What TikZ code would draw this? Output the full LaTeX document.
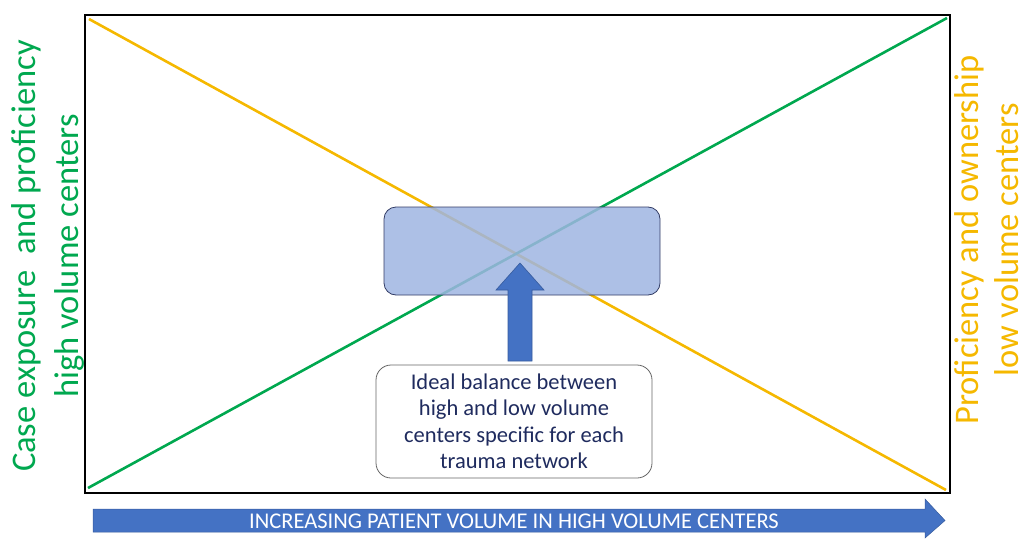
\documentclass[tikz,border=0pt]{standalone}
\usepackage{fontspec}
\setmainfont{Carlito}
\definecolor{gline}{HTML}{00A84F}
\definecolor{yline}{HTML}{F5B800}
\definecolor{boxblue}{HTML}{9FB5E2}
\definecolor{arrblue}{HTML}{4472C4}
\definecolor{navy}{HTML}{1F2B5E}
\tikzset{
  axislabel/.style={rotate=90, align=center, inner sep=0pt},
  curve/.style={line width=2.6pt},
  blockarrow/.style={fill=arrblue, draw=arrblue!80!black, line width=0.6pt, line join=miter},
}
\begin{document}
\begin{tikzpicture}[x=1pt,y=-1pt]
\useasboundingbox (0,0) rectangle (1027,538);
% frame corners
\coordinate (tl) at (85,15);
\coordinate (br) at (950,493);
\coordinate (g0) at (88,488);
\coordinate (g1) at (947,18);
\coordinate (y0) at (89,19);
\coordinate (y1) at (946,490);
% the two trade-off lines
\draw[curve, yline] (y0) -- (y1);
\draw[curve, gline] (g0) -- (g1);
% balance zone
\node[draw=navy!80!gray, line width=0.8pt, fill=boxblue, fill opacity=0.85,
  rounded corners=12pt, minimum width=276pt, minimum height=88pt] (zone) at (522,251) {};
% arrow pointing into the balance zone
\draw[blockarrow] (508,361) -- (508,290) -- (496,290) -- (520,263) -- (544,290)
  -- (532,290) -- (532,361) -- cycle;
% explanation box
\node[draw=gray!80!black, line width=0.8pt, fill=white, rounded corners=15pt,
  minimum width=276pt, minimum height=113pt, text=navy, align=center,
  font=\fontsize{22.5}{26.5}\selectfont] (note) at (514,421.5)
  {Ideal balance between\\high and low volume\\centers specific for each\\trauma network};
% frame
\draw[line width=2.8pt] (tl) rectangle (br);
% horizontal axis arrow
\draw[blockarrow, line width=0.5pt] (93,509) -- (925,509) -- (925,499) -- (945,520.5)
  -- (925,538) -- (925,532) -- (93,532) -- cycle;
\node[text=white, font=\fontsize{22.5}{24}\selectfont, inner sep=0pt] (xlabel) at (514,521)
  {INCREASING PATIENT VOLUME IN HIGH VOLUME CENTERS};
% side labels
\node[axislabel, text=gline, font=\fontsize{34.5}{43}\selectfont] (leftlab) at (48,256)
  {Case exposure\ \ and proficiency\\high volume centers};
\node[axislabel, text=yline, font=\fontsize{34.5}{40}\selectfont] (rightlab) at (987,240)
  {Proficiency and ownership\\low volume centers};
\end{tikzpicture}
\end{document}
